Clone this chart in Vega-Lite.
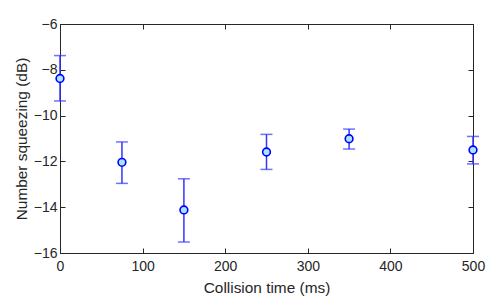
{
  "$schema": "https://vega.github.io/schema/vega-lite/v6.json",
  "width": 413,
  "height": 229,
  "autosize": {"type": "none"},
  "padding": {"left": 60, "top": 24, "right": 25, "bottom": 52},
  "background": "white",
  "config": {
    "view": {"stroke": "#262626", "strokeWidth": 1},
    "font": "Liberation Sans",
    "axis": {
      "grid": false,
      "domainColor": "#262626",
      "tickColor": "#262626",
      "labelColor": "#262626",
      "titleColor": "#262626",
      "labelFont": "Liberation Sans",
      "titleFont": "Liberation Sans",
      "labelFontSize": 14,
      "titleFontSize": 15.4,
      "titleFontWeight": "normal",
      "tickSize": -5,
      "labelFlush": false,
      "labelOverlap": false,
      "domain": true
    }
  },
  "data": {
    "values": [
      {"t": 0, "sq": -8.38, "lo": -9.36, "hi": -7.38},
      {"t": 75, "sq": -12.04, "lo": -12.96, "hi": -11.15},
      {"t": 150, "sq": -14.12, "lo": -15.52, "hi": -12.76},
      {"t": 250, "sq": -11.59, "lo": -12.35, "hi": -10.82},
      {"t": 350, "sq": -11.01, "lo": -11.46, "hi": -10.59},
      {"t": 500, "sq": -11.5, "lo": -12.11, "hi": -10.91}
    ]
  },
  "layer": [
    {
      "mark": {"type": "errorbar", "ticks": {"size": 12, "color": "#3434ff", "thickness": 1.5}, "rule": {"color": "#3434ff", "strokeWidth": 1.5}},
      "encoding": {
        "x": {"field": "t", "type": "quantitative", "scale": {"domain": [0, 500], "nice": false, "zero": false},
          "axis": {"orient": "bottom", "values": [0, 100, 200, 300, 400, 500], "title": "Collision time (ms)", "labelPadding": 11, "titlePadding": 7}},
        "y": {"field": "lo", "type": "quantitative", "scale": {"domain": [-16, -6], "nice": false, "zero": false},
          "axis": {"orient": "left", "values": [-16, -14, -12, -10, -8, -6], "title": "Number squeezing (dB)", "labelPadding": 8, "titlePadding": 4}},
        "y2": {"field": "hi"}
      }
    },
    {
      "mark": {"type": "point", "filled": true, "fill": "#a8e4ff", "stroke": "#0000ff", "strokeWidth": 1.6, "size": 60, "opacity": 1},
      "encoding": {
        "x": {"field": "t", "type": "quantitative",
          "axis": {"orient": "top", "values": [0, 100, 200, 300, 400, 500], "labels": false, "title": null, "domain": false}},
        "y": {"field": "sq", "type": "quantitative",
          "axis": {"orient": "right", "values": [-16, -14, -12, -10, -8, -6], "labels": false, "title": null, "domain": false}}
      }
    }
  ],
  "resolve": {"axis": {"x": "independent", "y": "independent"}}
}
